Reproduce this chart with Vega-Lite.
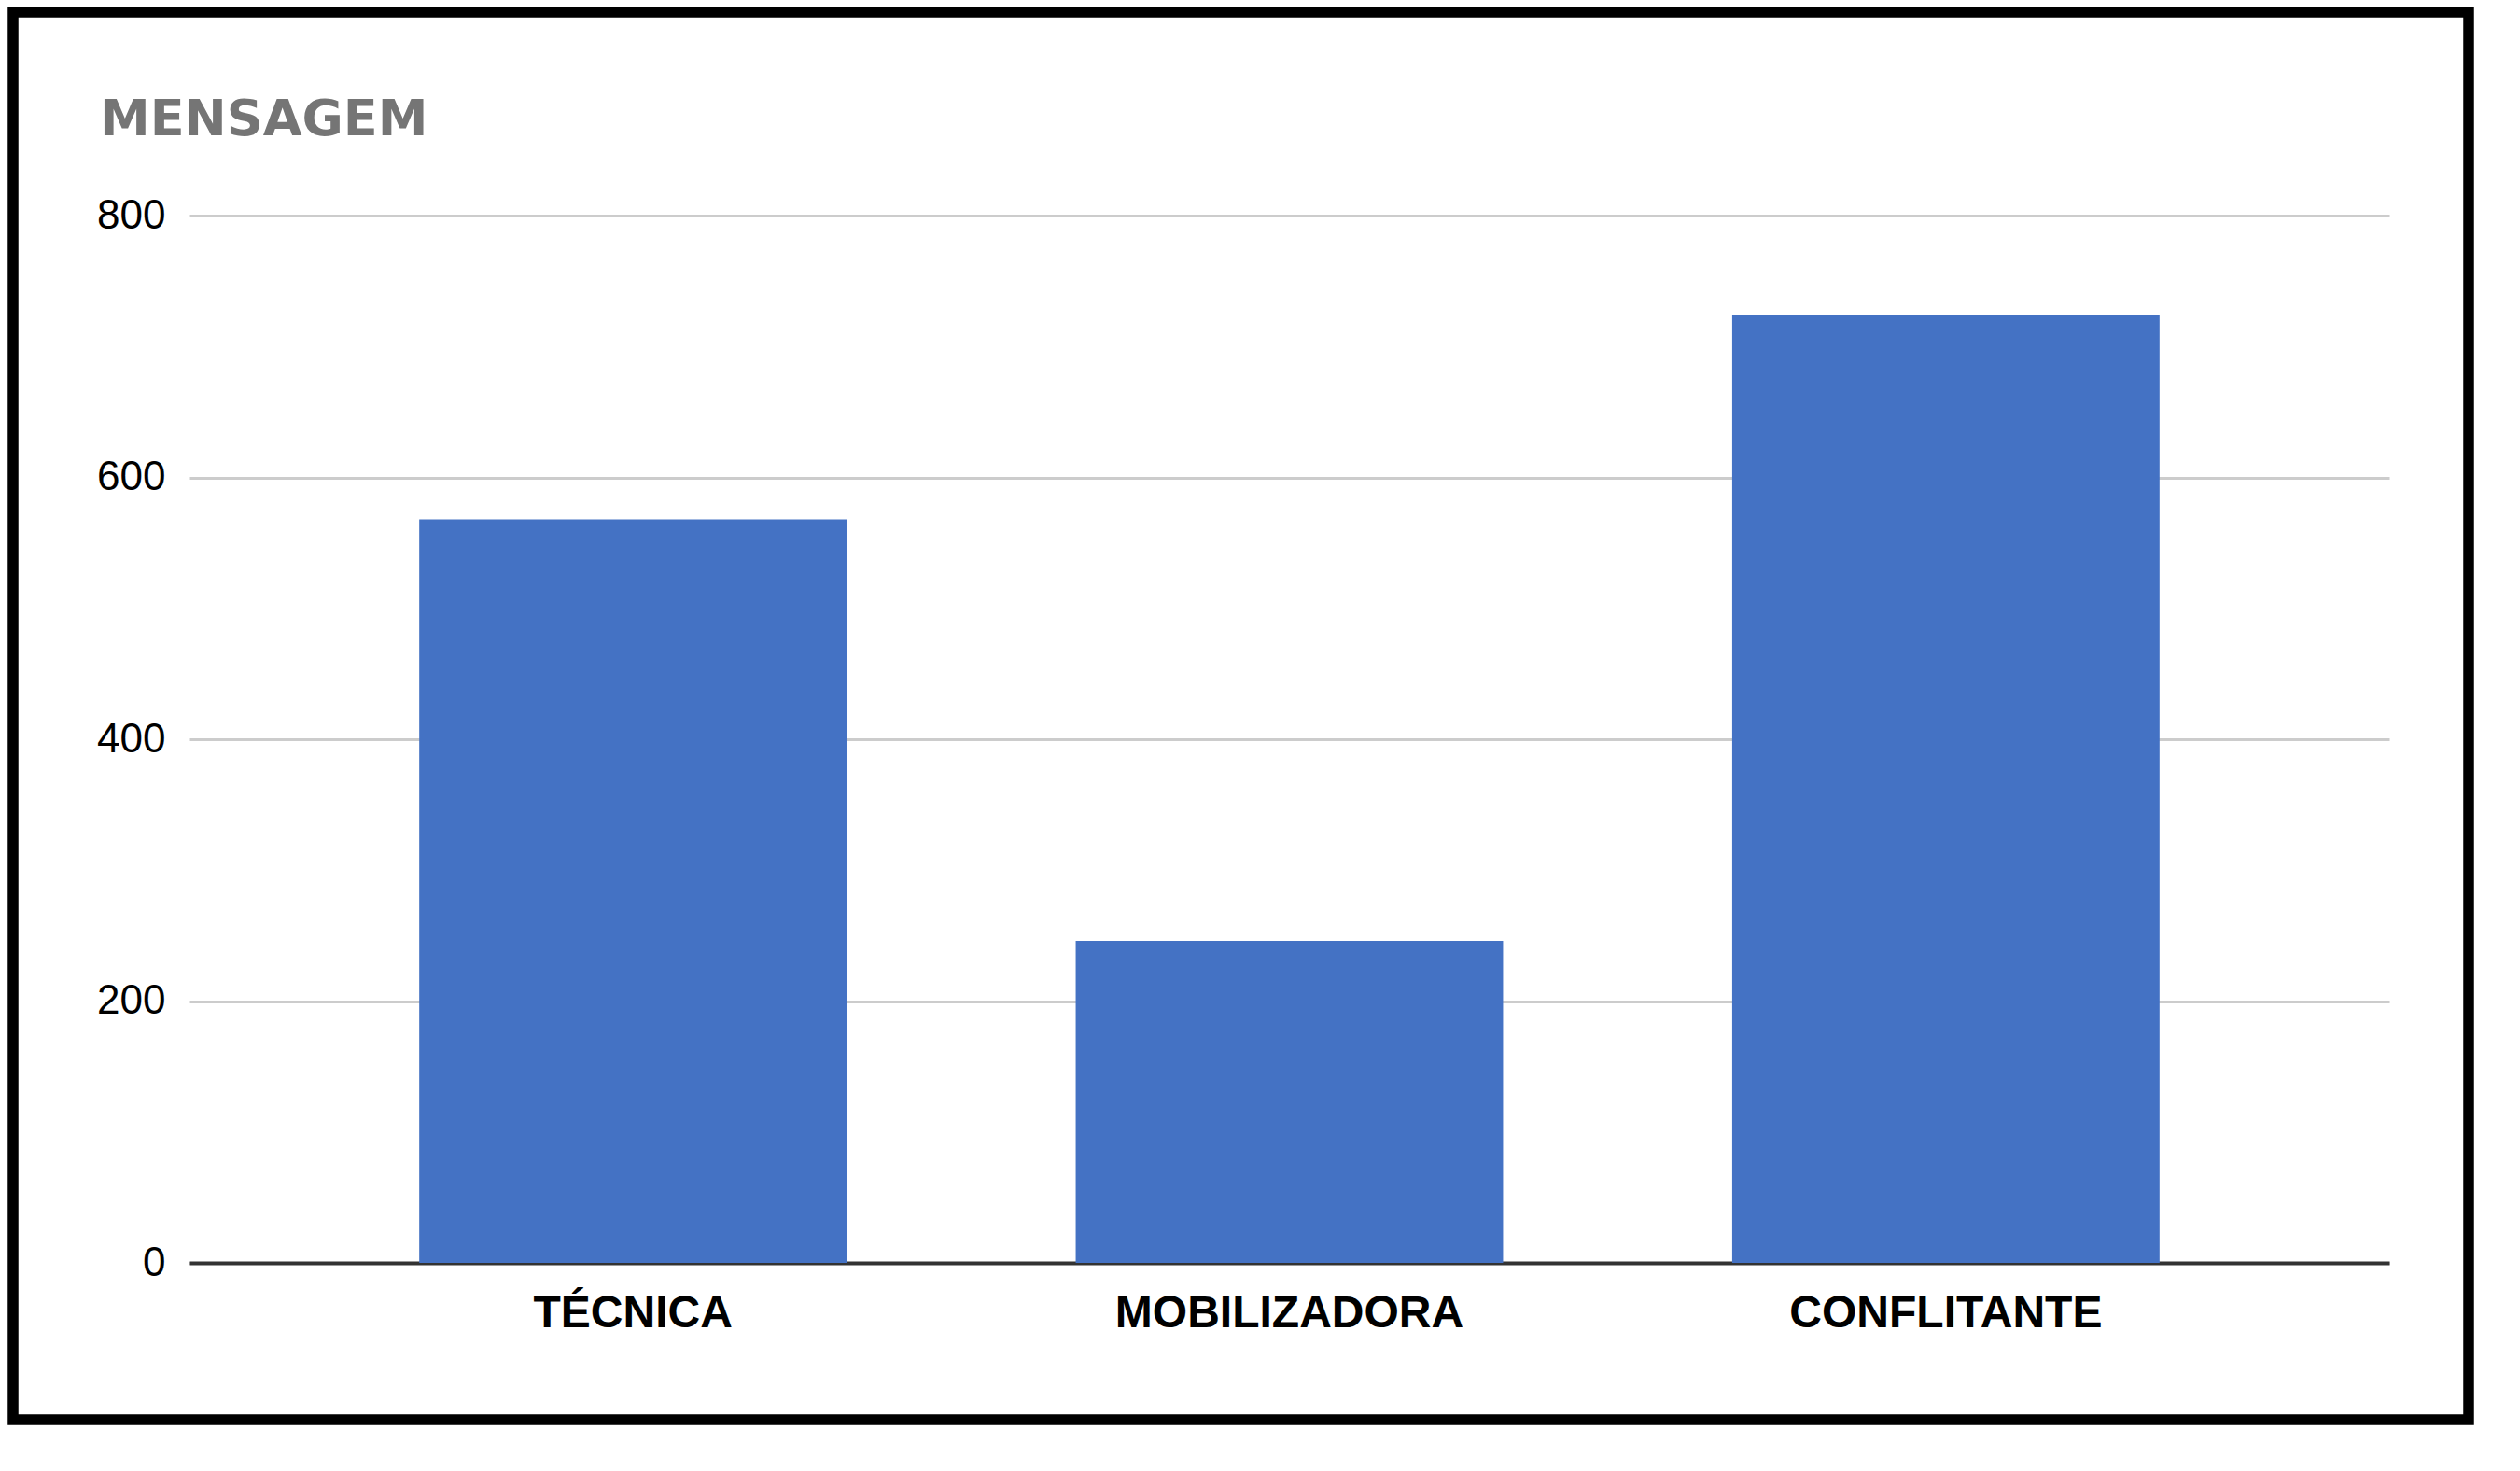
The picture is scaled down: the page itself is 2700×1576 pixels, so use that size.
{
  "$schema": "https://vega.github.io/schema/vega-lite/v6.json",
  "autosize": {"type": "none"},
  "width": 2631,
  "height": 1508,
  "padding": {"left": 14, "top": 13, "right": 55, "bottom": 55},
  "background": "white",
  "title": {
    "text": "MENSAGEM",
    "anchor": "start",
    "frame": "group",
    "orient": "top",
    "baseline": "alphabetic",
    "offset": -186,
    "dx": 93,
    "font": "DejaVu Sans",
    "fontSize": 54,
    "fontWeight": "bold",
    "color": "#757575"
  },
  "config": {
    "view": {"stroke": "#000000", "strokeWidth": 11.5, "fill": "white"},
    "axis": {"labelFont": "Liberation Sans", "title": null, "labelLimit": 0}
  },
  "data": {
    "values": [
      {"categoria": "TÉCNICA", "valor": 568},
      {"categoria": "MOBILIZADORA", "valor": 246},
      {"categoria": "CONFLITANTE", "valor": 724}
    ]
  },
  "mark": {"type": "bar", "color": "#4472C4"},
  "encoding": {
    "x": {
      "field": "categoria",
      "type": "nominal",
      "sort": null,
      "scale": {"range": [189, 2546], "paddingInner": 0.349, "paddingOuter": 0.35},
      "axis": {
        "orient": "bottom",
        "offset": -168,
        "labelAngle": 0,
        "labelFontSize": 48,
        "labelFontWeight": "bold",
        "labelColor": "#000000",
        "labelPadding": 30,
        "labelLimit": 0,
        "ticks": false,
        "tickSize": 0,
        "domain": true,
        "domainColor": "#333333",
        "domainWidth": 4,
        "grid": false
      }
    },
    "y": {
      "field": "valor",
      "type": "quantitative",
      "scale": {"domain": [0, 800], "range": [1340, 218], "nice": false},
      "axis": {
        "orient": "left",
        "offset": -189,
        "values": [0, 200, 400, 600, 800],
        "labelFontSize": 44,
        "labelColor": "#000000",
        "labelPadding": 26,
        "ticks": false,
        "tickSize": 0,
        "domain": false,
        "grid": true,
        "gridColor": "#cccccc",
        "gridWidth": 3
      }
    }
  }
}
